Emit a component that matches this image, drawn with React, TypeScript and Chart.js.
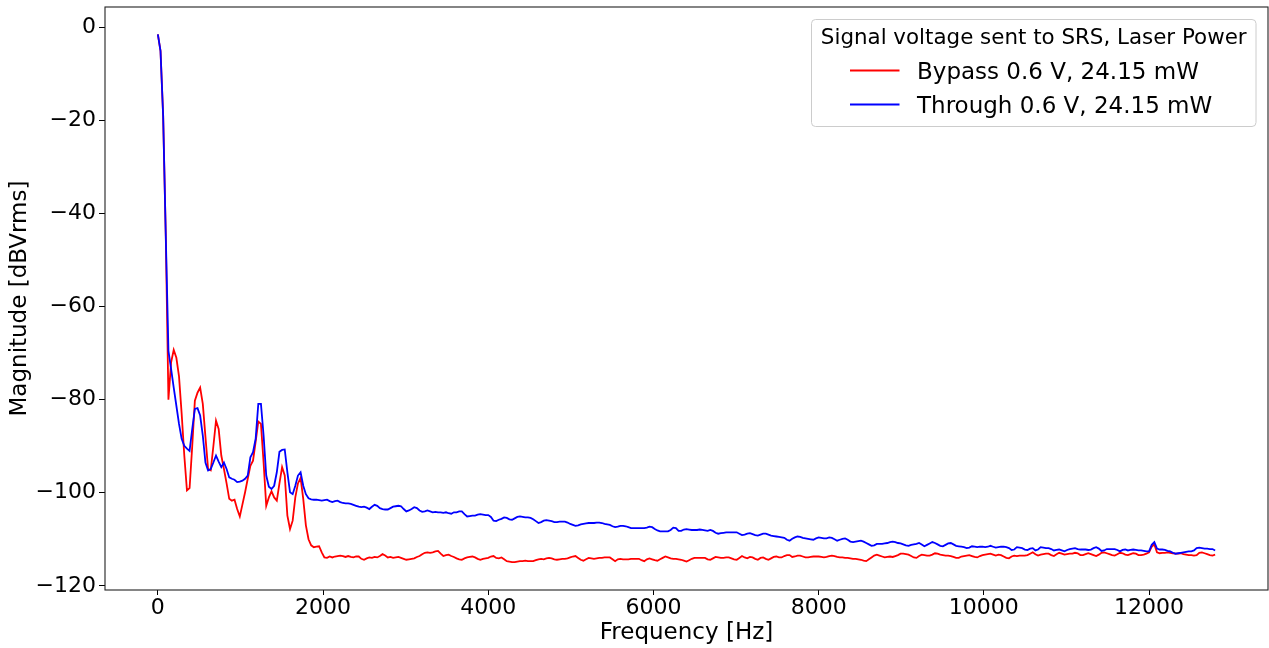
import React, { useEffect, useRef } from "react";
import { Chart, registerables } from "chart.js";

Chart.register(...registerables);

// Frequency bin spacing of the analyser (Hz) and the number of bins
const FREQ_STEP = 32;
const X_TICKS = [0, 2000, 4000, 6000, 8000, 10000, 12000];
const Y_TICKS = [-120, -100, -80, -60, -40, -20, 0];

const LEGEND_TITLE = "Signal voltage sent to SRS, Laser Power";
const LABEL_BYPASS = "Bypass 0.6 V, 24.15 mW";
const LABEL_THROUGH = "Through 0.6 V, 24.15 mW";

// Magnitude [dBVrms], one value per 32 Hz bin from 0 to 12800 Hz
const BYPASS = [
  -1.5, -5, -19, -45, -80, -72, -69.3, -71, -75, -83, -92, -99.5, -99, -90, -80.2, -78.5,
  -77.4, -80.9, -88, -94.9, -95.2, -90, -84.5, -86.3, -92, -94.9, -98, -101.3, -101.7, -101.5, -103.5, -105.1,
  -102.5, -99.9, -97, -94.2, -93.1, -89, -84.7, -85.2, -93.5, -102.8, -101, -99.7, -101, -101.7, -98, -94.5,
  -96.3, -104.9, -107.8, -106, -101, -98, -96.8, -101.3, -107, -110, -111.3, -111.7, -111.6, -111.5, -112.8, -113.9,
  -114, -113.7, -113.9, -113.7, -113.6, -113.5, -113.6, -113.8, -113.6, -113.8, -113.9, -113.7, -113.7, -114.2, -114.4, -114.1,
  -113.9, -114.0, -113.8, -113.9, -113.6, -113.2, -113.5, -113.9, -113.8, -114.0, -113.9, -113.8, -114.0, -114.2, -114.4, -114.3,
  -114.2, -114.1, -113.8, -113.6, -113.2, -112.9, -112.8, -112.9, -112.8, -112.6, -112.5, -113.1, -113.6, -113.4, -113.3, -113.6,
  -113.8, -114.1, -114.3, -114.4, -114.1, -113.9, -113.8, -113.7, -113.9, -114.2, -114.4, -114.2, -114.1, -114.0, -113.7, -113.6,
  -114.0, -114.1, -113.9, -114.3, -114.7, -114.8, -114.9, -114.9, -114.8, -114.7, -114.7, -114.6, -114.7, -114.7, -114.7, -114.5,
  -114.3, -114.2, -114.3, -114.1, -114.0, -114.1, -114.3, -114.4, -114.3, -114.2, -114.2, -114.1, -113.9, -113.7, -113.6, -114.0,
  -114.4, -114.6, -114.3, -114.0, -114.1, -114.2, -114.1, -114.0, -114.0, -113.9, -113.9, -113.9, -114.3, -114.7, -114.3, -114.2,
  -114.3, -114.3, -114.3, -114.2, -114.2, -114.2, -114.2, -114.5, -114.7, -114.3, -114.1, -114.3, -114.5, -114.6, -114.3, -114.0,
  -113.7, -113.9, -114.1, -114.2, -114.2, -114.3, -114.4, -114.6, -114.8, -114.5, -114.2, -114.0, -114.0, -114.0, -114.0, -114.0,
  -114.3, -114.4, -114.1, -113.8, -113.9, -114.0, -114.0, -113.9, -113.9, -114.1, -114.3, -114.4, -114.0, -113.6, -113.9, -114.1,
  -113.8, -113.9, -114.2, -114.4, -114.0, -113.9, -114.2, -114.4, -114.1, -113.8, -113.7, -113.9, -113.9, -113.6, -113.4, -113.4,
  -113.8, -113.7, -113.5, -113.5, -113.7, -113.9, -113.9, -113.8, -113.7, -113.7, -113.7, -113.8, -113.9, -113.8, -113.6, -113.5,
  -113.6, -113.8, -113.9, -113.9, -114.0, -114.0, -114.1, -114.2, -114.2, -114.3, -114.4, -114.6, -114.7, -114.3, -113.9, -113.5,
  -113.3, -113.5, -113.7, -113.9, -113.8, -113.7, -113.8, -113.6, -113.4, -113.1, -113.1, -113.2, -113.3, -113.6, -113.9, -114.0,
  -113.6, -113.3, -113.4, -113.5, -113.5, -113.3, -113.0, -113.1, -113.3, -113.4, -113.5, -113.5, -113.6, -113.8, -114.0, -114.0,
  -113.7, -113.6, -113.5, -113.4, -113.6, -113.8, -113.9, -113.6, -113.4, -113.3, -113.2, -113.1, -113.3, -113.5, -113.3, -113.4,
  -113.7, -114.0, -114.1, -113.7, -113.5, -113.6, -113.5, -113.5, -113.5, -113.4, -113.1, -112.8, -113.2, -113.5, -113.3, -113.2,
  -113.1, -113.1, -113.4, -113.6, -113.2, -112.9, -113.1, -113.3, -113.2, -113.1, -113.1, -112.9, -113.0, -113.4, -113.4, -113.2,
  -113.0, -113.2, -113.4, -113.6, -113.3, -112.9, -112.8, -113.0, -113.2, -113.4, -113.5, -113.2, -112.9, -113.0, -113.3, -113.4,
  -113.2, -113.0, -113.1, -113.4, -113.4, -113.3, -113.1, -112.8, -111.6, -111.1, -112.8, -113.0, -112.9, -112.9, -112.8, -112.9,
  -113.0, -113.1, -113.1, -113.0, -113.2, -113.3, -113.4, -113.4, -113.5, -113.4, -112.9, -112.8, -113.0, -113.2, -113.4, -113.5,
  -113.3,
];

const THROUGH = [
  -1.5, -5, -19, -45, -69.5, -73.4, -77.4, -81.3, -85.2, -88.4, -89.9, -90.5, -91.0, -86.3, -82.0, -81.8,
  -83.4, -87.7, -93.5, -95.2, -94.9, -93.5, -92.0, -93.3, -94.5, -93.5, -94.9, -96.7, -97.0, -97.2, -97.7, -97.6,
  -97.4, -97.0, -96.3, -92.4, -91.3, -88.4, -80.9, -80.9, -87.7, -96.3, -98.7, -99.2, -98.5, -95.6, -91.2, -90.8,
  -90.7, -95.6, -99.9, -100.3, -98.5, -96.3, -95.6, -98.5, -100.3, -101.2, -101.4, -101.5, -101.5, -101.6, -101.7, -101.6,
  -101.5, -101.8, -102.0, -101.8, -101.7, -102.0, -102.2, -102.3, -102.3, -102.4, -102.6, -102.8, -103.0, -103.1, -103.0, -103.2,
  -103.5, -103.0, -102.6, -102.8, -103.3, -103.5, -103.6, -103.6, -103.3, -103.0, -102.9, -102.8, -102.9, -103.5, -104.0, -103.8,
  -103.5, -103.1, -103.3, -103.8, -104.1, -104.0, -103.8, -104.0, -104.2, -104.1, -104.2, -104.2, -104.3, -104.2, -104.4, -104.5,
  -104.2, -104.2, -104.0, -104.0, -104.6, -105.1, -105.0, -104.9, -104.9, -104.7, -104.6, -104.7, -104.8, -104.8, -105.2, -106.0,
  -106.1, -105.8, -105.6, -105.3, -105.4, -105.7, -105.8, -105.5, -105.2, -105.1, -105.2, -105.3, -105.3, -105.4, -105.7, -106.1,
  -106.5, -106.3, -106.0, -105.9, -106.0, -106.1, -106.3, -106.3, -106.2, -106.2, -106.2, -106.4, -106.7, -106.9, -107.1, -107.0,
  -106.8, -106.7, -106.6, -106.5, -106.5, -106.5, -106.4, -106.4, -106.5, -106.7, -106.8, -106.9, -107.2, -107.4, -107.3, -107.1,
  -107.1, -107.2, -107.4, -107.6, -107.6, -107.6, -107.6, -107.6, -107.6, -107.5, -107.3, -107.4, -107.8, -108.1, -108.3, -108.3,
  -108.3, -108.3, -108.0, -107.5, -107.6, -108.2, -108.2, -107.9, -107.8, -107.9, -108.0, -108.0, -108.0, -107.9, -108.0, -108.1,
  -108.2, -108.0, -108.2, -108.6, -108.8, -108.7, -108.6, -108.5, -108.5, -108.5, -108.5, -108.5, -108.8, -109.1, -109.0, -108.8,
  -108.7, -108.9, -109.1, -109.2, -109.0, -108.8, -108.8, -109.0, -109.2, -109.3, -109.4, -109.5, -109.6, -109.7, -110.1, -110.3,
  -109.9, -109.6, -109.4, -109.5, -109.7, -109.8, -109.9, -110.0, -110.1, -109.8, -109.6, -109.7, -109.8, -109.8, -109.6, -109.7,
  -110.0, -110.3, -110.1, -109.9, -109.8, -110.1, -110.5, -110.6, -110.5, -110.4, -110.3, -110.5, -110.8, -111.1, -111.4, -111.3,
  -111.0, -111.0, -111.0, -110.9, -110.8, -110.6, -110.5, -110.6, -110.8, -110.9, -111.1, -111.3, -111.4, -111.2, -111.1, -111.0,
  -110.8, -111.1, -111.5, -111.2, -110.9, -110.6, -110.8, -111.1, -111.4, -111.5, -111.2, -110.9, -110.8, -111.1, -111.4, -111.5,
  -111.6, -111.7, -111.9, -111.8, -111.5, -111.6, -111.7, -111.6, -111.6, -111.7, -111.6, -111.4, -111.6, -111.8, -111.7, -111.6,
  -111.6, -111.7, -111.9, -112.3, -112.2, -111.7, -111.8, -111.9, -112.2, -112.3, -112.0, -111.9, -112.4, -112.2, -111.7, -111.8,
  -111.9, -111.9, -112.1, -112.4, -112.3, -112.2, -112.4, -112.6, -112.3, -112.1, -112.0, -111.9, -112.1, -112.2, -112.2, -112.2,
  -112.3, -112.2, -111.9, -111.7, -112.0, -112.5, -112.4, -112.1, -112.1, -112.1, -112.1, -112.3, -112.6, -112.3, -112.2, -112.4,
  -112.3, -112.2, -112.3, -112.4, -112.4, -112.5, -112.6, -112.6, -111.2, -110.6, -112.0, -112.2, -112.2, -112.3, -112.5, -112.6,
  -112.9, -113.1, -113.0, -112.9, -112.8, -112.7, -112.6, -112.6, -112.4, -111.9, -111.8, -111.9, -112.0, -112.0, -112.1, -112.1,
  -112.4,
];

const RED = "#ff0000";
const BLUE = "#0000ff";
const FONT = "'DejaVu Sans', 'Liberation Sans', sans-serif";

const fmtTick = (v: number | string) => {
  const n = Number(v);
  return n < 0 ? "\u2212" + String(Math.abs(n)) : String(n);
};

const toPoints = (vals: number[]) => vals.map((y, i) => ({ x: i * FREQ_STEP, y }));

const zeroPad = (s: any) => {
  s.paddingTop = 0;
  s.paddingBottom = 0;
  s.paddingLeft = 0;
  s.paddingRight = 0;
};

const framePlugin = {
  id: "frame",
  afterDatasetsDraw(chart: any) {
    const { ctx, chartArea } = chart;
    ctx.save();
    ctx.strokeStyle = "#222";
    ctx.lineWidth = 1.1;
    ctx.strokeRect(chartArea.left, chartArea.top, chartArea.right - chartArea.left, chartArea.bottom - chartArea.top);
    ctx.restore();
  },
};

const legendPlugin = {
  id: "mplLegend",
  afterDraw(chart: any) {
    const { ctx, chartArea } = chart;
    const right = chartArea.right - 12;
    const top = chartArea.top + 12.5;
    const w = 444.5;
    const h = 107;
    const left = right - w;
    ctx.save();
    ctx.beginPath();
    const r = 4;
    ctx.moveTo(left + r, top);
    ctx.lineTo(left + w - r, top);
    ctx.quadraticCurveTo(left + w, top, left + w, top + r);
    ctx.lineTo(left + w, top + h - r);
    ctx.quadraticCurveTo(left + w, top + h, left + w - r, top + h);
    ctx.lineTo(left + r, top + h);
    ctx.quadraticCurveTo(left, top + h, left, top + h - r);
    ctx.lineTo(left, top + r);
    ctx.quadraticCurveTo(left, top, left + r, top);
    ctx.closePath();
    ctx.fillStyle = "rgba(255,255,255,0.8)";
    ctx.fill();
    ctx.strokeStyle = "#cccccc";
    ctx.lineWidth = 1;
    ctx.stroke();

    ctx.fillStyle = "#000";
    ctx.textBaseline = "alphabetic";
    ctx.textAlign = "center";
    ctx.font = `21.4px ${FONT}`;
    ctx.fillText(LEGEND_TITLE, left + w / 2, top + 24);

    const entries = [
      { label: LABEL_BYPASS, color: RED, y: top + 51 },
      { label: LABEL_THROUGH, color: BLUE, y: top + 85 },
    ];
    ctx.textAlign = "left";
    ctx.font = `23px ${FONT}`;
    for (const e of entries) {
      ctx.strokeStyle = e.color;
      ctx.lineWidth = 1.8;
      ctx.beginPath();
      ctx.moveTo(left + 38.5, e.y);
      ctx.lineTo(left + 88, e.y);
      ctx.stroke();
      ctx.fillText(e.label, left + 105.5, e.y + 8);
    }
    ctx.restore();
  },
};

export default function App() {
  const canvasRef = useRef<HTMLCanvasElement | null>(null);

  useEffect(() => {
    document.body.style.margin = "0";
    const canvas = canvasRef.current;
    if (!canvas) return;
    Chart.defaults.font.family = FONT;
    Chart.defaults.color = "#000";

    const chart = new Chart(canvas, {
      type: "line",
      data: {
        datasets: [
          {
            label: LABEL_BYPASS,
            data: toPoints(BYPASS),
            borderColor: RED,
            backgroundColor: RED,
            borderWidth: 1.8,
            pointRadius: 0,
            tension: 0,
            fill: false,
            order: 2,
          },
          {
            label: LABEL_THROUGH,
            data: toPoints(THROUGH),
            borderColor: BLUE,
            backgroundColor: BLUE,
            borderWidth: 1.8,
            pointRadius: 0,
            tension: 0,
            fill: false,
            order: 1,
          },
        ],
      },
      options: {
        animation: false,
        responsive: false,
        maintainAspectRatio: false,
        layout: { padding: { top: 7, right: 1, left: 0, bottom: 0 } },
        plugins: {
          legend: { display: false },
          tooltip: { enabled: false },
        },
        scales: {
          x: {
            type: "linear",
            min: -640,
            max: 13440,
            afterBuildTicks: (s: any) => {
              s.ticks = X_TICKS.map((v) => ({ value: v }));
            },
            afterFit: (s: any) => {
              s.height = 58;
              zeroPad(s);
            },
            ticks: {
              callback: (v: any) => fmtTick(v),
              font: { size: 22, family: FONT },
              color: "#000",
              padding: 0,
              maxRotation: 0,
              autoSkip: false,
            },
            grid: {
              display: true,
              drawOnChartArea: false,
              drawTicks: true,
              tickLength: 5,
              color: "#000",
              lineWidth: 1,
            },
            border: { display: false },
            title: {
              display: true,
              text: "Frequency [Hz]",
              font: { size: 23, family: FONT },
              color: "#000",
              padding: { top: 0, bottom: 1 },
            },
          },
          y: {
            type: "linear",
            min: -120.9,
            max: 4.4,
            afterBuildTicks: (s: any) => {
              s.ticks = Y_TICKS.map((v) => ({ value: v }));
            },
            afterFit: (s: any) => {
              s.width = 105;
              zeroPad(s);
            },
            ticks: {
              callback: (v: any) => fmtTick(v),
              font: { size: 22, family: FONT },
              color: "#000",
              padding: 3,
              autoSkip: false,
            },
            grid: {
              display: true,
              drawOnChartArea: false,
              drawTicks: true,
              tickLength: 6,
              color: "#000",
              lineWidth: 1,
            },
            border: { display: false },
            title: {
              display: true,
              text: "Magnitude [dBVrms]",
              font: { size: 23, family: FONT },
              color: "#000",
              padding: { top: 6, bottom: 0 },
            },
          },
        },
      },
      plugins: [framePlugin, legendPlugin],
    });

    return () => chart.destroy();
  }, []);

  return (
    <div style={{ width: 1269, height: 648, position: "relative" }}>
      <canvas ref={canvasRef} width={1269} height={648} style={{ width: 1269, height: 648, display: "block" }} />
    </div>
  );
}
